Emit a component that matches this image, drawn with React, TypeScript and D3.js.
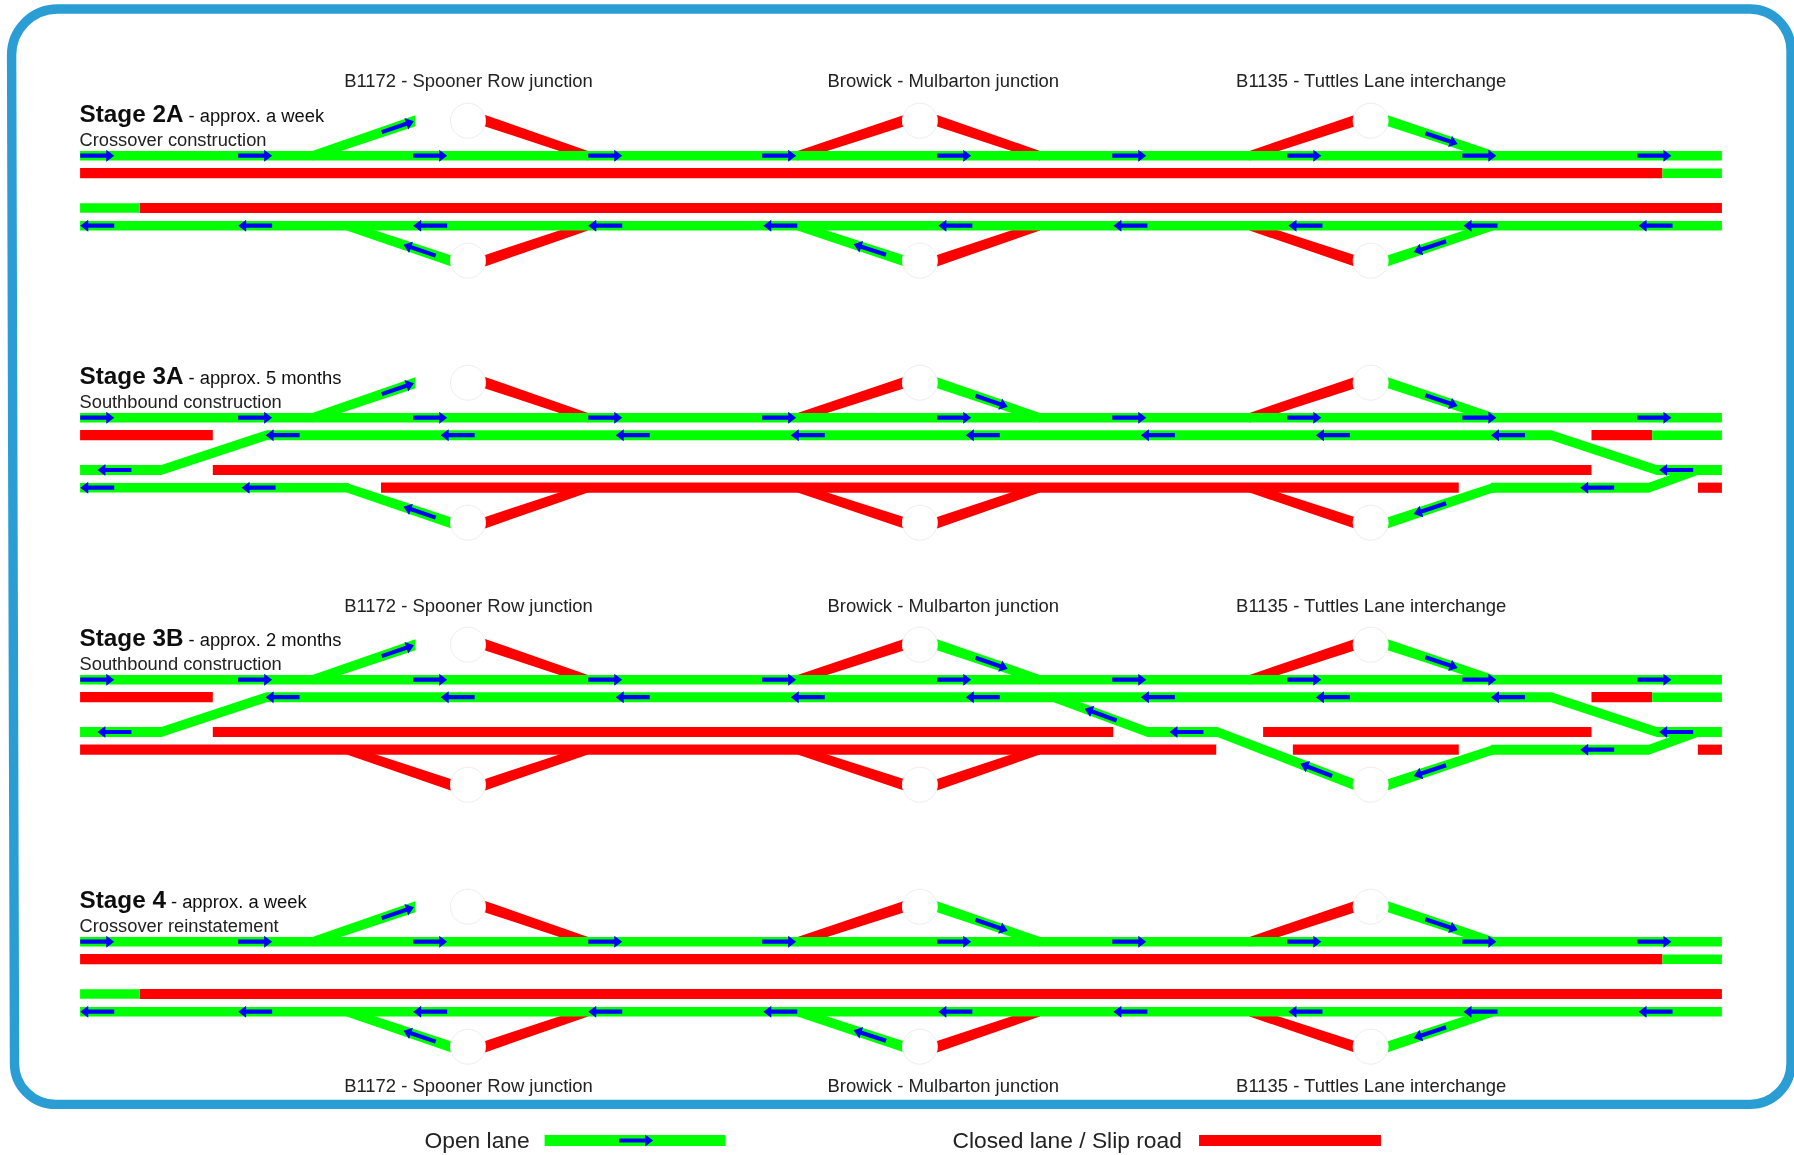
import React from "react";
import * as d3 from "d3";

type Lane = "L1" | "L2" | "L3" | "L4" | "T" | "B";
type Run = [number, Lane][];

const WIDTH = 1794;
const HEIGHT = 1155;

const stageNames = ["2A", "3A", "3B", "4"];
const stageDurations = ["approx. a week", "approx. 5 months", "approx. 2 months", "approx. a week"];
const stageWorks = ["Crossover construction", "Southbound construction", "Southbound construction", "Crossover reinstatement"];
const junctionNames = ["B1172 - Spooner Row junction", "Browick - Mulbarton junction", "B1135 - Tuttles Lane interchange"];
const junctionChainage = [409, 804, 1198];
const junctionLabelChainage = [409.5, 824.5, 1198.5];

// Slip-road chainage for each junction: top-left, top-right, bottom-left, bottom-right
const slipTopLeft = [[273, 363], [697, 790], [1092, 1184]];
const slipTopRight = [[424, 514], [819, 909], [1213, 1305]];
const slipBottomLeft = [[303, 394], [697, 790], [1092, 1184]];
const slipBottomRight = [[424, 514], [819, 909], [1213, 1305]];

// o = open, c = closed, - = not drawn; one letter per slip: left,right for each junction
const slipStateTop = ["occcco", "occoco", "occoco", "occoco"];
const slipStateBottom = ["ococco", "occcco", "cccc-o", "ococco"];

const openRuns: Run[][] = [
  [[[70, "L1"], [1505, "L1"]], [[1453, "L2"], [1505, "L2"]], [[70, "L3"], [122, "L3"]], [[70, "L4"], [1505, "L4"]]],
  [
    [[70, "L1"], [1505, "L1"]],
    [[70, "L3"], [141, "L3"], [233, "L2"], [1356, "L2"], [1448, "L3"], [1505, "L3"]],
    [[1444, "L2"], [1505, "L2"]],
    [[70, "L4"], [305, "L4"]],
    [[1303, "L4"], [1441, "L4"], [1484, "L3"]],
  ],
  [
    [[70, "L1"], [1505, "L1"]],
    [[70, "L3"], [141, "L3"], [233, "L2"], [1356, "L2"], [1448, "L3"], [1505, "L3"]],
    [[1444, "L2"], [1505, "L2"]],
    [[921, "L2"], [1003, "L3"], [1064, "L3"], [1184, "B"]],
    [[1303, "L4"], [1441, "L4"], [1484, "L3"]],
  ],
  [[[70, "L1"], [1505, "L1"]], [[1453, "L2"], [1505, "L2"]], [[70, "L3"], [122, "L3"]], [[70, "L4"], [1505, "L4"]]],
];

const closedRuns: Run[][] = [
  [[[70, "L2"], [1453, "L2"]], [[122, "L3"], [1505, "L3"]]],
  [[[70, "L2"], [186, "L2"]], [[1391, "L2"], [1444, "L2"]], [[186, "L3"], [1391, "L3"]], [[333, "L4"], [1275, "L4"]], [[1484, "L4"], [1505, "L4"]]],
  [
    [[70, "L2"], [186, "L2"]],
    [[1391, "L2"], [1444, "L2"]],
    [[186, "L3"], [973, "L3"]],
    [[1104, "L3"], [1391, "L3"]],
    [[70, "L4"], [1063, "L4"]],
    [[1130, "L4"], [1275, "L4"]],
    [[1484, "L4"], [1505, "L4"]],
  ],
  [[[70, "L2"], [1453, "L2"]], [[122, "L3"], [1505, "L3"]]],
];

// Straight arrows: chainage of the left end of each arrow
const eastboundTicks = [70, 208, 361, 514, 666, 819, 972, 1125, 1278, 1431];
const westboundTicks = [70, 208, 361, 514, 667, 820, 973, 1126, 1279, 1432];
const contraflowTicks = [232, 385, 538, 691, 844, 997, 1150, 1303];

const laneArrowsWest: [number, Lane][][] = [
  westboundTicks.map((x) => [x, "L4"] as [number, Lane]),
  [
    ...contraflowTicks.map((x) => [x, "L2"] as [number, Lane]),
    [85, "L3"], [1450, "L3"], [70, "L4"], [211, "L4"], [1381, "L4"],
  ],
  [
    ...contraflowTicks.map((x) => [x, "L2"] as [number, Lane]),
    [85, "L3"], [1022, "L3"], [1450, "L3"], [1381, "L4"],
  ],
  westboundTicks.map((x) => [x, "L4"] as [number, Lane]),
];

// Arrows on slopes: [from chainage, from lane, to chainage, to lane, fraction along]
type SlopeArrow = [number, Lane, number, Lane, number];
const slopeTop2A: SlopeArrow[] = [[273, "L1", 363, "T", 0.83], [1213, "T", 1305, "L1", 0.51]];
const slopeTopRest: SlopeArrow[] = [[273, "L1", 363, "T", 0.83], [819, "T", 909, "L1", 0.53], [1213, "T", 1305, "L1", 0.51]];
const slopeBottomFull: SlopeArrow[] = [[394, "B", 303, "L4", 0.3], [790, "B", 697, "L4", 0.32], [1305, "L4", 1213, "B", 0.6]];
const slopeBottom3A: SlopeArrow[] = [[394, "B", 303, "L4", 0.3], [1305, "L4", 1213, "B", 0.6]];
const slopeBottom3B: SlopeArrow[] = [[1003, "L3", 921, "L2", 0.5], [1184, "B", 1064, "L3", 0.28], [1305, "L4", 1213, "B", 0.6]];
const slopeArrows: SlopeArrow[][] = [
  [...slopeTop2A, ...slopeBottomFull],
  [...slopeTopRest, ...slopeBottom3A],
  [...slopeTopRest, ...slopeBottom3B],
  [...slopeTopRest, ...slopeBottomFull],
];

const legendOpen = "Open lane";
const legendClosed = "Closed lane / Slip road";

const GREEN = "#00ff00";
const RED = "#ff0000";
const BLUE = "#0000ff";
const FRAME = "#2a9dd4";
const FONT = "'Liberation Sans', Arial, sans-serif";

const x = d3.scaleLinear().domain([0, 1568]).range([0, WIDTH]);
const stageY = d3.scaleOrdinal<string, number>().domain(stageNames).range([155.7, 417.7, 679.7, 941.7]);
const laneOffset = d3
  .scaleOrdinal<string, number>()
  .domain(["L1", "L2", "L3", "L4", "T", "B"])
  .range([0, 17.5, 52.3, 70, -35, 105]);
const labelBaselines = [87, 611.5, 1091.5];

const band = (stage: string, run: Run, h: number, hEnd = h) =>
  d3
    .area<[number, Lane]>()
    .x((d) => x(d[0]))
    .y0((d) => stageY(stage) + laneOffset(d[1]) - (d[1] === "T" || d[1] === "B" ? hEnd : h) / 2)
    .y1((d) => stageY(stage) + laneOffset(d[1]) + (d[1] === "T" || d[1] === "B" ? hEnd : h) / 2)(run) as string;

const arrowShape =
  d3.line()([
    [-17, -2.1], [9, -2.1], [9, -6], [17, 0], [9, 6], [9, 2.1], [-17, 2.1],
  ]) + "Z";

function framePath() {
  const left0 = 11.6;
  const left1 = 14.5;
  const right = 1791;
  const top = 9;
  const bottom = 1104.4;
  const p = d3.path();
  p.moveTo(left0 + 46, top);
  p.lineTo(right - 41, top);
  p.arcTo(right, top, right, top + 41, 41);
  p.lineTo(right, bottom - 41);
  p.arcTo(right, bottom, right - 41, bottom, 41);
  p.lineTo(left1 + 41, bottom);
  p.arcTo(left1, bottom, left1, bottom - 41, 41);
  p.lineTo(left0, top + 46);
  p.arcTo(left0, top, left0 + 46, top, 46);
  p.closePath();
  return p.toString();
}

function Arrow({ cx, cy, angle }: { cx: number; cy: number; angle: number }) {
  return <path d={arrowShape} fill={BLUE} transform={`translate(${cx},${cy}) rotate(${angle})`} />;
}

function slips(stageIdx: number) {
  const out: { run: Run; open: boolean }[] = [];
  junctionChainage.forEach((_, j) => {
    const top = slipStateTop[stageIdx];
    const bottom = slipStateBottom[stageIdx];
    const add = (state: string, a: number, la: Lane, b: number, lb: Lane) => {
      if (state !== "-") out.push({ run: [[a, la], [b, lb]], open: state === "o" });
    };
    add(top[j * 2], slipTopLeft[j][0], "L1", slipTopLeft[j][1], "T");
    add(top[j * 2 + 1], slipTopRight[j][0], "T", slipTopRight[j][1], "L1");
    add(bottom[j * 2], slipBottomLeft[j][0], "L4", slipBottomLeft[j][1], "B");
    add(bottom[j * 2 + 1], slipBottomRight[j][0], "B", slipBottomRight[j][1], "L4");
  });
  return out;
}

function StageDiagram({ name, idx }: { name: string; idx: number }) {
  const base = stageY(name);
  const slipList = slips(idx);
  const ly = (l: Lane) => base + laneOffset(l);
  return (
    <g>
      {slipList.filter((s) => !s.open).map((s, i) => (
        <path key={i} d={band(name, s.run, 9.6, 11.4)} fill={RED} />
      ))}
      {closedRuns[idx].map((r, i) => (
        <path key={i} d={band(name, r, 10.2)} fill={RED} />
      ))}
      {slipList.filter((s) => s.open).map((s, i) => (
        <path key={i} d={band(name, s.run, 9.6, 11)} fill={GREEN} />
      ))}
      {openRuns[idx].map((r, i) => (
        <path key={i} d={band(name, r, r.length > 2 ? 10 : 9.6, 11)} fill={GREEN} />
      ))}
      {junctionChainage.flatMap((j) =>
        (["T", "B"] as Lane[]).map((l) => (
          <ellipse key={j + l} cx={x(j)} cy={ly(l)} rx={17.5} ry={17.5} fill="#fff" stroke="#eeeeee" strokeWidth={1} />
        ))
      )}
      {eastboundTicks.map((t) => (
        <Arrow key={t} cx={x(t + 15)} cy={ly("L1")} angle={0} />
      ))}
      {laneArrowsWest[idx].map(([t, l]) => (
        <Arrow key={t + l} cx={x(t + 15)} cy={ly(l)} angle={180} />
      ))}
      {slopeArrows[idx].map(([a, la, b, lb, f], i) => {
        const p0: [number, number] = [x(a), ly(la)];
        const p1: [number, number] = [x(b), ly(lb)];
        const [cx, cy] = d3.interpolate(p0, p1)(f) as number[];
        const angle = (Math.atan2(p1[1] - p0[1], p1[0] - p0[0]) * 180) / Math.PI;
        return <Arrow key={i} cx={cx} cy={cy} angle={angle} />;
      })}
      <text x={x(69.5)} y={base - 33.5} fontFamily={FONT} fill="#111">
        <tspan fontWeight="bold" fontSize={24.3}>{`Stage ${name}`}</tspan>
        <tspan fontSize={18.35} dx={5}>{`- ${stageDurations[idx]}`}</tspan>
      </text>
      <text x={x(69.5)} y={base - 10} fontFamily={FONT} fontSize={18.3} fill="#222">
        {stageWorks[idx]}
      </text>
    </g>
  );
}

export default function App() {
  return (
    <svg
      width={WIDTH}
      height={HEIGHT}
      viewBox={`0 0 ${WIDTH} ${HEIGHT}`}
      style={{ position: "absolute", left: 0, top: 0, display: "block", background: "#fff" }}
    >
      <defs>
        <filter id="soft" x="-2%" y="-2%" width="104%" height="104%">
          <feGaussianBlur stdDeviation={0.5} />
        </filter>
      </defs>
      <g filter="url(#soft)">
        <path d={framePath()} fill="#fff" stroke={FRAME} strokeWidth={9.4} />
        {stageNames.map((n, i) => (
          <StageDiagram key={n} name={n} idx={i} />
        ))}
        {labelBaselines.flatMap((y, r) =>
          junctionNames.map((label, j) => (
            <text key={label + r} x={x(junctionLabelChainage[j])} y={y} textAnchor="middle" fontFamily={FONT} fontSize={18.45} fill="#222">
              {label}
            </text>
          ))
        )}
        <text x={x(463)} y={1148} textAnchor="end" fontFamily={FONT} fontSize={22.8} fill="#222">
          {legendOpen}
        </text>
        <path d={d3.area<number>().x((d) => x(d)).y0(1135).y1(1146)([476, 634]) as string} fill={GREEN} />
        <Arrow cx={x(556)} cy={1140.5} angle={0} />
        <text x={x(1033)} y={1148} textAnchor="end" fontFamily={FONT} fontSize={22.8} fill="#222">
          {legendClosed}
        </text>
        <path d={d3.area<number>().x((d) => x(d)).y0(1135).y1(1146)([1048, 1207]) as string} fill={RED} />
      </g>
    </svg>
  );
}
